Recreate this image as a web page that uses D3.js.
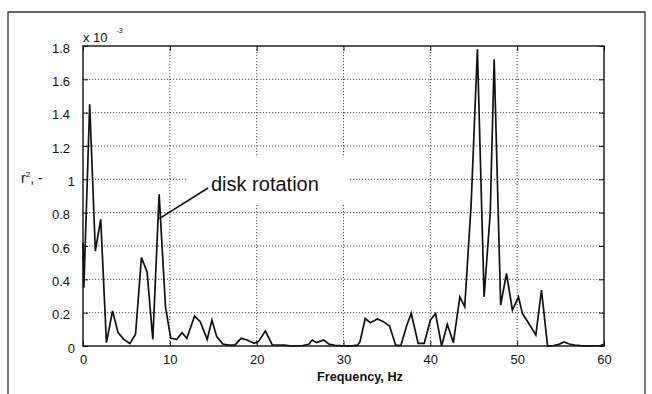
<!DOCTYPE html>
<html>
<head>
<meta charset="utf-8">
<script src="https://cdn.jsdelivr.net/npm/d3@7/dist/d3.min.js"></script>
<style>
  html, body { margin: 0; padding: 0; background: #fff; }
  svg { display: block; }
  text { font-family: "Liberation Sans", Arial, sans-serif; fill: #111; }
</style>
</head>
<body>
<svg id="chart" width="652" height="394"></svg>
<script>
// Spectrum of r^2 (x 10^-3) against frequency
const freqHz = [
  0.0, 0.1, 0.77, 1.42, 2.04, 2.7, 3.4, 4.04, 4.7, 5.4,
  6.05, 6.73, 7.38, 8.04, 8.77, 9.5, 10.1, 10.8, 11.4, 11.96,
  12.85, 13.5, 14.3, 14.85, 15.4, 16.1, 16.8, 17.5, 18.2, 18.9,
  19.7, 20.2, 21.0, 21.8, 22.5, 23.2, 24.0, 24.6, 25.3, 26.0,
  26.4, 26.9, 27.7, 28.3, 29.0, 29.7, 30.3, 31.0, 31.6, 31.9,
  32.5, 33.1, 33.9, 34.6, 35.3, 36.0, 36.6, 37.3, 37.8, 38.6,
  39.3, 40.0, 40.6, 41.3, 41.96, 42.65, 43.4, 43.96, 44.7, 45.42,
  46.19, 46.9, 47.35, 48.1, 48.77, 49.45, 50.15, 50.6, 51.4, 52.15,
  52.8, 53.5, 54.2, 54.8, 55.4, 56.0, 56.6, 57.3, 58.1, 58.8,
  59.6, 60.0
];
const r2Values = [
  0.62, 0.35, 1.45, 0.57, 0.76, 0.02, 0.21, 0.08, 0.04, 0.015,
  0.07, 0.53, 0.445, 0.04, 0.91, 0.235, 0.046, 0.04, 0.08, 0.046,
  0.18, 0.146, 0.04, 0.156, 0.056, 0.012, 0.005, 0.005, 0.046, 0.036,
  0.016, 0.026, 0.09, 0.006, 0.006, 0.005, 0.0, 0.0, 0.003, 0.01,
  0.036, 0.02, 0.036, 0.012, 0.004, 0.002, 0.001, 0.001, 0.005, 0.026,
  0.165, 0.14, 0.162, 0.146, 0.12, 0.006, 0.002, 0.126, 0.195, 0.016,
  0.016, 0.155, 0.195, 0.0, 0.13, 0.02, 0.295, 0.235, 0.85, 1.78,
  0.295, 0.8, 1.72, 0.246, 0.435, 0.216, 0.295, 0.195, 0.13, 0.066,
  0.335, 0.0, 0.003, 0.01, 0.024, 0.012, 0.006, 0.002, 0.0, 0.001,
  0.003, 0.01
];
const xTicks = [0, 10, 20, 30, 40, 50, 60];
const yTicks = [0, 0.2, 0.4, 0.6, 0.8, 1.0, 1.2, 1.4, 1.6, 1.8];
const yTickLabels = ["0", "0.2", "0.4", "0.6", "0.8", "1", "1.2", "1.4", "1.6", "1.8"];
const annotationText = "disk rotation";
const annotationFreq = 8.9;
const annotationValue = 0.77;

const svg = d3.select("#chart");
const plot = { left: 83, right: 604, top: 46, bottom: 346 };

const x = d3.scaleLinear().domain([0, 60]).range([plot.left, plot.right]);
const y = d3.scaleLinear().domain([0, 1.8]).range([plot.bottom, plot.top]);

// outer frame
svg.append("path")
  .attr("d", "M8,394 L8,12 L645,12 L645,394")
  .attr("fill", "none").attr("stroke", "#333").attr("stroke-width", 1.3);

// dotted grid
const grid = svg.append("g")
  .attr("stroke", "#3a3a3a").attr("stroke-width", 0.9)
  .attr("stroke-dasharray", "1.2 1.8");
grid.selectAll("line.v").data(xTicks.slice(1, -1)).join("line")
  .attr("class", "v")
  .attr("x1", d => x(d)).attr("x2", d => x(d))
  .attr("y1", plot.top).attr("y2", plot.bottom);
grid.selectAll("line.h").data(yTicks.slice(1, -1)).join("line")
  .attr("class", "h")
  .attr("x1", plot.left).attr("x2", plot.right)
  .attr("y1", d => y(d)).attr("y2", d => y(d));

// white backing behind the annotation text
svg.append("rect")
  .attr("x", 187).attr("y", 157).attr("width", 161).attr("height", 46)
  .attr("fill", "#fff");

// axes with inward ticks on all four sides
const tickLen = 5;
svg.append("g").attr("transform", `translate(0,${plot.bottom})`)
  .call(d3.axisBottom(x).tickValues(xTicks).tickSize(-tickLen).tickPadding(9).tickFormat(d3.format("d")))
  .call(g => g.select(".domain").remove())
  .call(g => g.selectAll("line").attr("stroke", "#111"))
  .call(g => g.selectAll("text").attr("font-size", 13).attr("fill", "#111")
     .attr("font-family", "Liberation Sans, Arial, sans-serif"));
svg.append("g").attr("transform", `translate(0,${plot.top})`)
  .call(d3.axisTop(x).tickValues(xTicks).tickSize(-tickLen).tickFormat(""))
  .call(g => g.select(".domain").remove())
  .call(g => g.selectAll("line").attr("stroke", "#111"));
svg.append("g").attr("transform", `translate(${plot.left},0)`)
  .call(d3.axisLeft(y).tickValues(yTicks).tickSize(-tickLen).tickFormat(""))
  .call(g => g.select(".domain").remove())
  .call(g => g.selectAll("line").attr("stroke", "#111"));
svg.append("g").attr("transform", `translate(${plot.right},0)`)
  .call(d3.axisRight(y).tickValues(yTicks).tickSize(-tickLen).tickFormat(""))
  .call(g => g.select(".domain").remove())
  .call(g => g.selectAll("line").attr("stroke", "#111"));

// y tick labels (single glyph labels sit a little further right)
svg.append("g").selectAll("text").data(yTicks).join("text")
  .attr("x", (d, i) => yTickLabels[i].length === 1 ? 75 : 70)
  .attr("y", d => y(d) + 6.5)
  .attr("text-anchor", "end").attr("font-size", 13)
  .text((d, i) => yTickLabels[i]);

// plot box
svg.append("rect")
  .attr("x", plot.left).attr("y", plot.top)
  .attr("width", plot.right - plot.left).attr("height", plot.bottom - plot.top)
  .attr("fill", "none").attr("stroke", "#111").attr("stroke-width", 1.4);

// data line
const line = d3.line().x(d => x(d[0])).y(d => y(d[1]));
svg.append("path")
  .datum(freqHz.map((f, i) => [f, r2Values[i]]))
  .attr("d", line)
  .attr("fill", "none").attr("stroke", "#111").attr("stroke-width", 1.7)
  .attr("stroke-linejoin", "miter");

// annotation
svg.append("line")
  .attr("x1", x(annotationFreq) - 1).attr("y1", y(annotationValue) + 1)
  .attr("x2", 208).attr("y2", 188)
  .attr("stroke", "#111").attr("stroke-width", 1.6);
svg.append("text")
  .attr("x", 211).attr("y", 190.5)
  .attr("font-size", 20)
  .text(annotationText);

// exponent note
svg.append("text").attr("x", 83).attr("y", 41.5).attr("font-size", 13).text("x 10");
svg.append("text").attr("x", 116.5).attr("y", 33).attr("font-size", 7).text("-3");

// y label
const yl = svg.append("text").attr("x", 21).attr("y", 183).attr("font-size", 14);
yl.append("tspan").text("r");
yl.append("tspan").attr("dy", -6).attr("font-size", 8).text("2");
yl.append("tspan").attr("dy", 6).text(", -");

// x label
svg.append("text")
  .attr("x", 360).attr("y", 381)
  .attr("text-anchor", "middle")
  .attr("font-size", 12.7).attr("font-weight", "bold")
  .text("Frequency, Hz");
</script>
</body>
</html>
